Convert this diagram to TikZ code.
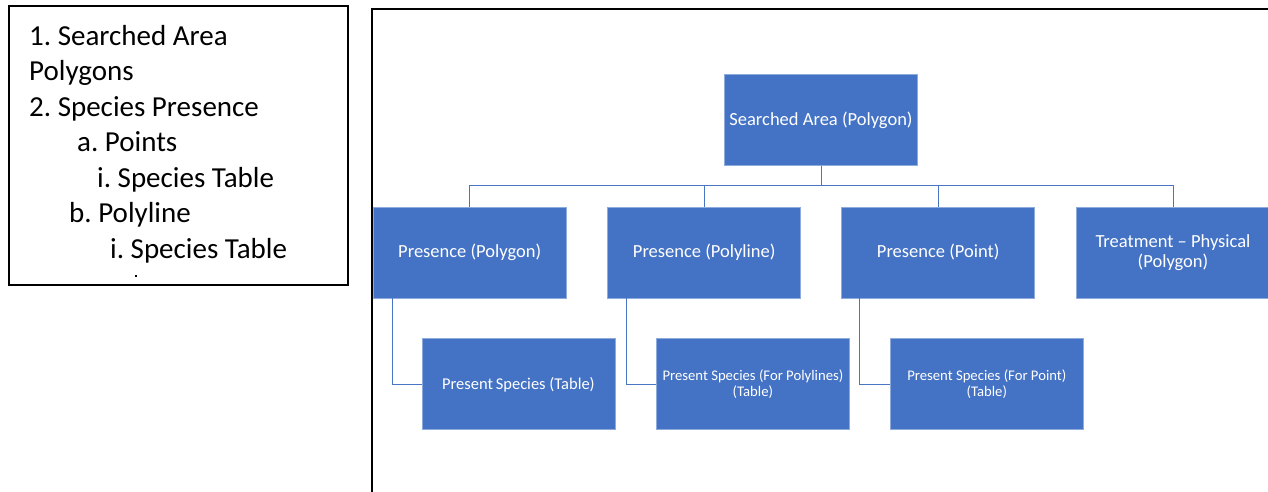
\documentclass[tikz,border=0pt]{standalone}
\usepackage{fontspec}
\setmainfont{Carlito}
\frenchspacing
\definecolor{boxblue}{HTML}{4472C4}
\definecolor{boxedge}{HTML}{8FAADC}
\definecolor{linkblue}{HTML}{4A74C4}
\begin{document}
\begin{tikzpicture}[x=1pt,y=-1pt,
  tbox/.style={draw=boxedge, line width=0.8pt, fill=boxblue, text=white,
    minimum width=193pt, minimum height=91pt, inner sep=2pt, align=center,
    font=\fontsize{18.5}{21}\selectfont},
  smallbox/.style={tbox, font=\fontsize{14.7}{15.5}\selectfont},
  conn/.style={draw=linkblue, line width=1pt},
  listline/.style={anchor=base west, inner sep=0pt, font=\fontsize{29}{35}\selectfont},
  frame/.style={draw=black, line width=2pt}]
\useasboundingbox (0,0) rectangle (1268,491);

% outline box on the left
\draw[frame] (9,6) rectangle (348,284.5);
\node[listline] (l1) at (29,45)    {1. Searched Area};
\node[listline] (l2) at (29,80.5)  {Polygons};
\node[listline] (l3) at (29,116)   {2. Species Presence};
\node[listline] (l4) at (77,151.5) {a. Points};
\node[listline] (l5) at (97,187)   {i. Species Table};
\node[listline] (l6) at (69,222.5) {b. Polyline};
\node[listline] (l7) at (110,258)  {i. Species Table};
\fill (134.5,275) rectangle (136.5,276.5);

% frame around the hierarchy
\draw[frame] (371.5,495) -- (371.5,9.3) -- (1272,9.3);

% hierarchy
\node[tbox] (root) at (821,120) {Searched Area (Polygon)};

\node[tbox] (p1) at (469.7,252.5) {Presence (Polygon)};
\node[tbox] (p2) at (704.2,252.5) {Presence (Polyline)};
\node[tbox] (p3) at (938.2,252.5) {Presence (Point)};
\node[tbox, font=\fontsize{18.5}{20}\selectfont] (p4) at (1173,252.5) {Treatment -- Physical\\(Polygon)};

\node[tbox, font=\fontsize{16.5}{18}\selectfont] (s1) at (518.4,384.3) {Present\,Species (Table)};
\node[smallbox] (s2) at (752.9,384.3) {Present Species (For Polylines)\\(Table)};
\node[smallbox] (s3) at (986.8,384.3) {Present Species (For Point)\\(Table)};

\foreach \c in {p1,p2,p3,p4}
  \draw[conn] (root.south) -- ++(0,20) -| (\c.north);

\draw[conn] ([xshift=19.5pt]p1.south west) |- (s1.west);
\draw[conn] ([xshift=19.2pt]p2.south west) |- (s2.west);
\draw[conn] ([xshift=18.5pt]p3.south west) |- (s3.west);
\end{tikzpicture}
\end{document}
